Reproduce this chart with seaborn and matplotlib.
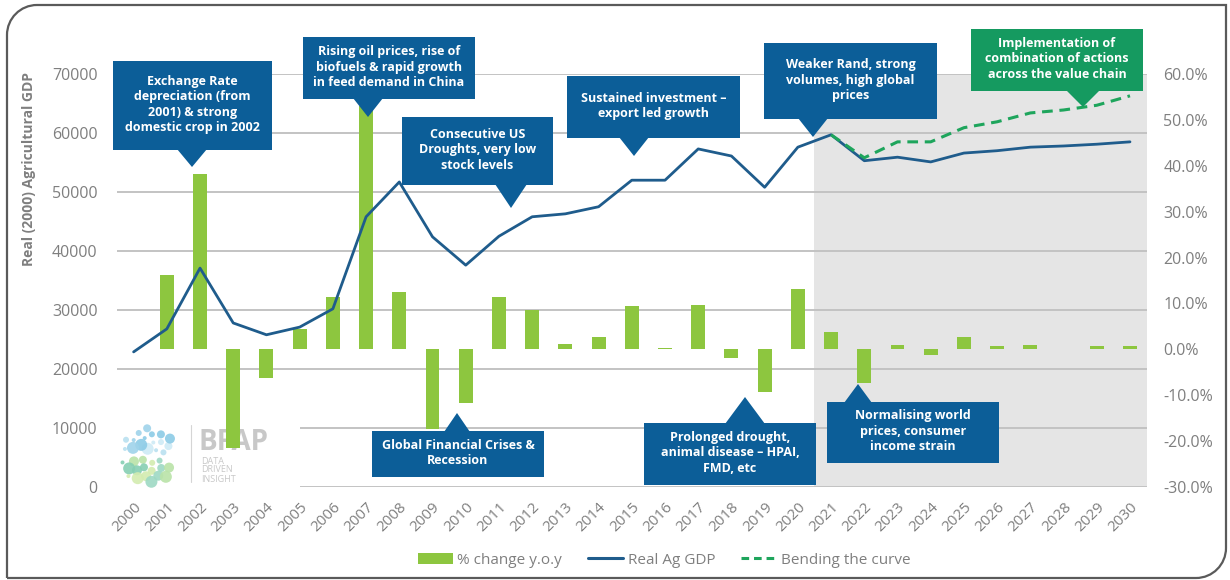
import numpy as np
import pandas as pd
import matplotlib
matplotlib.use("Agg")
import matplotlib.pyplot as plt
import seaborn as sns
from matplotlib.patches import Rectangle, Polygon, Ellipse, Patch, PathPatch
from matplotlib.lines import Line2D
from matplotlib.path import Path
from matplotlib.ticker import FixedLocator

# ---------------- data ----------------
years = [str(y) for y in range(2000, 2031)]
pct_change = [0.0, 16.3, 38.3, -21.5, -6.3, 4.4, 11.5, 53.0, 12.4, -17.4, -11.8,
              11.5, 8.5, 1.1, 2.6, 9.4, 0.2, 9.6, -1.9, -9.3, 13.1,
              3.7, -7.4, 0.9, -1.3, 2.6, 0.7, 1.0, 0.1, 0.7, 0.7]
real_ag_gdp = [22900, 26800, 37100, 27800, 25800, 27100, 30200, 45800, 51700, 42400, 37600,
               42500, 45800, 46300, 47500, 52000, 52000, 57300, 56100, 50800, 57600,
               59700, 55300, 55900, 55100, 56600, 57000, 57600, 57800, 58100, 58500]
bend_years = [str(y) for y in range(2021, 2031)]
bending_curve = [59700, 55800, 58500, 58500, 60900, 61900, 63400, 63900, 64700, 66300]

gdp_ticks = [0, 10000, 20000, 30000, 40000, 50000, 60000, 70000]
pct_ticks = [-30, -20, -10, 0, 10, 20, 30, 40, 50, 60]

# ---------------- style ----------------
sns.set_theme(style="white")
plt.rcParams['font.family'] = ['Open Sans', 'DejaVu Sans']

BAR_GREEN = '#8DC63F'
LINE_BLUE = '#1F5C8C'
DASH_GREEN = '#1EA55C'
BOX_BLUE = '#0C5E98'
BOX_GREEN = '#159A60'
GRID = '#C3C3C3'
SHADE = '#E5E5E5'
TXT = '#7F7F7F'

W, H = 1230, 580
fig = plt.figure(figsize=(W / 100, H / 100), dpi=100, facecolor='white')


def fx(x):
    return x / W


def fy(y):
    return 1 - y / H


ax_left, ax_right, ax_top, ax_bot = 117, 1146.6, 74, 487
ax = fig.add_axes([fx(ax_left), fy(ax_bot), fx(ax_right) - fx(ax_left), fy(ax_top) - fy(ax_bot)])
ax.patch.set_visible(False)

# bars on percent axis
df = pd.DataFrame({'year': years, 'pct': pct_change})
sns.barplot(data=df, x='year', y='pct', order=years, color=BAR_GREEN, saturation=1,
            width=0.42, linewidth=0, errorbar=None, ax=ax, zorder=3)
ax.set_xlim(-0.5, len(years) - 0.5)
ax.set_ylim(pct_ticks[0], pct_ticks[-1])

# forecast shading
ax.axvspan(years.index('2021') - 0.5, len(years) - 0.5, color=SHADE, zorder=0.2, lw=0)

# gridlines at the GDP tick levels (drawn on percent axis so they sit under the bars)
g0, g1 = gdp_ticks[0], gdp_ticks[-1]
p0, p1 = pct_ticks[0], pct_ticks[-1]
grid_pos = [p0 + (g - g0) / (g1 - g0) * (p1 - p0) for g in gdp_ticks]
ax.yaxis.remove_overlapping_locs = False
ax.yaxis.set_minor_locator(FixedLocator(grid_pos))
ax.set_axisbelow(True)
ax.grid(False)
ax.grid(which='minor', axis='y', color=GRID, lw=1.4)

# GDP axis (lines) on top
ax2 = ax.twinx()
ax.yaxis.tick_right()
ax2.yaxis.tick_left()
ax2.yaxis.set_label_position('left')
x_pos = np.arange(len(years))
sns.lineplot(x=x_pos, y=real_ag_gdp, ax=ax2, color=LINE_BLUE, lw=2.0, estimator=None, zorder=5)
bx = np.array([years.index(y) for y in bend_years])
sns.lineplot(x=bx, y=bending_curve, ax=ax2, color=DASH_GREEN, lw=2.2, estimator=None,
             linestyle=(0, (3.5, 2.2)), zorder=6)
ax2.set_ylim(g0, g1)
ax2.set_xlim(-0.5, len(years) - 0.5)
ax2.set_yticks(gdp_ticks)
ax2.set_yticklabels([str(v) for v in gdp_ticks])
ax2.set_ylabel('')
ax2.grid(False)

ax.set_yticks(pct_ticks)
ax.set_yticklabels([f"{v:.1f}%" for v in pct_ticks])
ax.set_ylabel('')
ax.set_xlabel('')
ax.set_xticks(x_pos)
ax.set_xticklabels(years, rotation=45, ha='right', rotation_mode='anchor')

for a in (ax, ax2):
    for s in a.spines.values():
        s.set_visible(False)
ax.tick_params(axis='y', which='both', length=0, pad=12, labelsize=11.5, labelcolor=TXT)
ax.tick_params(axis='x', length=0, pad=9, labelsize=11, labelcolor=TXT)
ax2.tick_params(axis='y', length=0, pad=14, labelsize=11.5, labelcolor=TXT)

fig.text(fx(29), fy(169), 'Real (2000) Agricultural GDP', rotation=90, ha='center', va='center',
         fontsize=10, fontweight='bold', color=TXT)

# ---------------- logo (inside axes, below bars) ----------------
kw = dict(transform=fig.transFigure, clip_on=False)
ax.add_artist(Rectangle((fx(113), fy(490)), fx(300) - fx(113), fy(418) - fy(490),
                        fc='white', ec='none', zorder=1.0, **kw))
cx, cy, R = 147, 456, 29
blues = ['#9FD3EA', '#B9E0F0', '#CDEAF5', '#8CCBE6']
greens = ['#9ED9C3', '#B9E3A8', '#86CFB3', '#D3ECB0']
n = 40
ga = np.pi * (3 - np.sqrt(5))
for i in range(n):
    r = R * np.sqrt((i + 0.5) / n)
    th = i * ga
    px_ = cx + r * np.cos(th)
    py_ = cy + r * np.sin(th)
    d = 4 + (i * 7 % 5) * 2.0
    if abs(py_ - cy) < 3:
        continue
    col = blues[i % 4] if py_ < cy else greens[i % 4]
    ax.add_artist(Ellipse((fx(px_), fy(py_)), d / W, d / H, fc=col, ec='none', alpha=0.9,
                          zorder=1.1, **kw))
ax.add_artist(Line2D([fx(191), fx(191)], [fy(425), fy(482)], color='#D5D5D5', lw=0.8,
                     zorder=1.1, **kw))
ax.text(fx(199), fy(443), 'BFAP', fontsize=20, fontweight='bold', color='#C8C8C8',
        ha='left', va='center', zorder=1.2, **kw)
ax.text(fx(201), fy(470), 'DATA\nDRIVEN\nINSIGHT', fontsize=6.5, color='#C8C8C8',
        ha='left', va='center', linespacing=1.0, zorder=1.2, **kw)


# ---------------- callouts ----------------
def callout(box, tip, half, text, color):
    x0, y0, x1, y1 = box
    tx, ty = tip
    fig.add_artist(Rectangle((fx(x0), fy(y1)), fx(x1) - fx(x0), fy(y0) - fy(y1),
                             transform=fig.transFigure, fc=color, ec='none', zorder=10))
    by = y1 - 1 if ty > y1 else y0 + 1
    fig.add_artist(Polygon([(fx(tx - half), fy(by)), (fx(tx + half), fy(by)), (fx(tx), fy(ty))],
                           closed=True, transform=fig.transFigure, fc=color, ec='none', zorder=10))
    fig.text(fx((x0 + x1) / 2), fy((y0 + y1) / 2 - 1), text, ha='center', va='center',
             color='white', fontsize=9, fontweight='bold', linespacing=1.25, zorder=11)


callout((113, 61, 272, 150), (192, 167), 15,
        'Exchange Rate\ndepreciation (from\n2001) & strong\ndomestic crop in 2002', BOX_BLUE)
callout((303, 37, 475, 99), (368, 117), 15,
        'Rising oil prices, rise of\nbiofuels & rapid growth\nin feed demand in China', BOX_BLUE)
callout((402, 117, 553, 185), (511, 208), 16,
        'Consecutive US\nDroughts, very low\nstock levels', BOX_BLUE)
callout((567, 76, 740, 138), (634, 156), 15,
        'Sustained investment –\nexport led growth', BOX_BLUE)
callout((764, 43, 937, 119), (813, 137), 15,
        'Weaker Rand, strong\nvolumes, high global\nprices', BOX_BLUE)
callout((971, 29, 1143, 91), (1083, 107), 17,
        'Implementation of\ncombination of actions\nacross the value chain', BOX_GREEN)
callout((372, 431, 544, 477), (457, 413), 13,
        'Global Financial Crises &\nRecession', BOX_BLUE)
callout((644, 423, 816, 485), (745, 397), 20,
        'Prolonged drought,\nanimal disease – HPAI,\nFMD, etc', BOX_BLUE)
callout((827, 402, 999, 463), (858, 384), 14,
        'Normalising world\nprices, consumer\nincome strain', BOX_BLUE)

# ---------------- legend ----------------
handles = [Patch(fc=BAR_GREEN, ec='none'),
           Line2D([], [], color=LINE_BLUE, lw=2.2),
           Line2D([], [], color=DASH_GREEN, lw=2.2, linestyle=(0, (2.5, 1.6)))]
labels = ['% change y.o.y', 'Real Ag GDP', 'Bending the curve']
fig.legend(handles, labels, loc='center', bbox_to_anchor=(fx(664), fy(560)), ncol=3,
           frameon=False, fontsize=11, labelcolor=TXT, handlelength=2.3,
           handletextpad=0.3, columnspacing=1.7)

# ---------------- frame ----------------
L, T, Rr, B, rad = 7, 5, 1226, 578, 30
k = 0.5523 * rad
pts = [(L, B), (L, T + rad),
       (L, T + rad - k), (L + rad - k, T), (L + rad, T),
       (Rr, T), (Rr, B - rad),
       (Rr, B - rad + k), (Rr - rad + k, B), (Rr - rad, B),
       (L, B)]
codes = [Path.MOVETO, Path.LINETO,
         Path.CURVE4, Path.CURVE4, Path.CURVE4,
         Path.LINETO, Path.LINETO,
         Path.CURVE4, Path.CURVE4, Path.CURVE4,
         Path.LINETO]
path = Path([(fx(x), fy(y)) for x, y in pts], codes)
fig.add_artist(PathPatch(path, transform=fig.transFigure, fc='none', ec='#5A5A5A', lw=1.6, zorder=20))

fig.savefig('out.png', dpi=100, facecolor='white')
